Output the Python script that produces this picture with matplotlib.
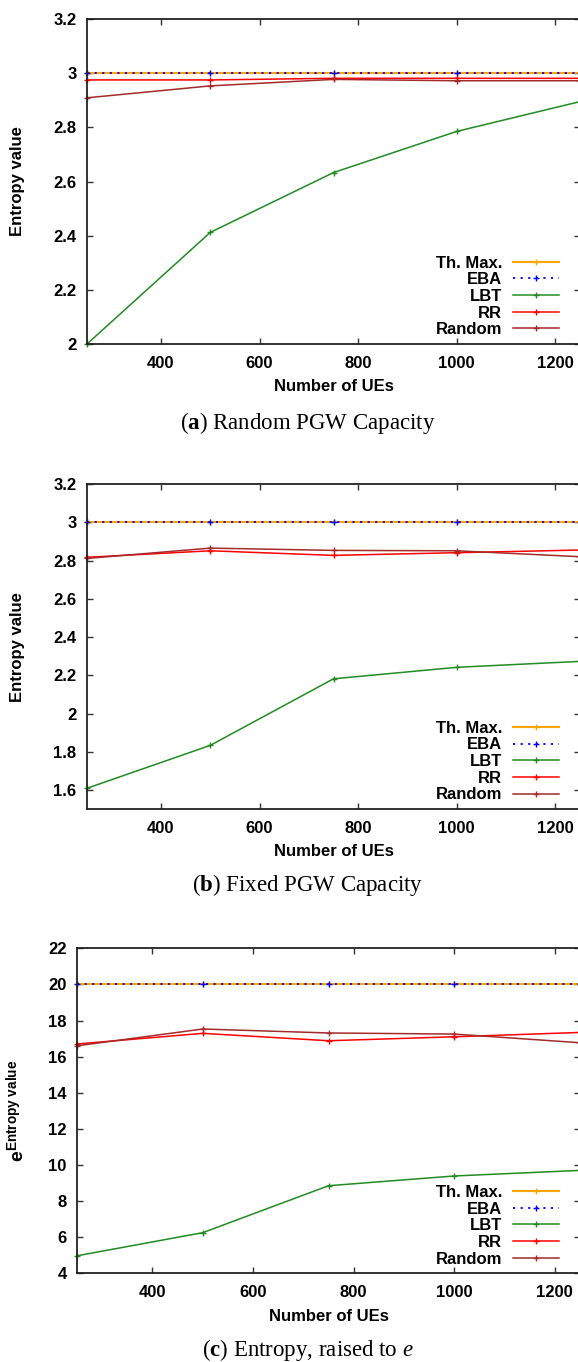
import matplotlib
matplotlib.use("Agg")
import matplotlib.pyplot as plt
from matplotlib.ticker import FixedLocator, FuncFormatter
from matplotlib.font_manager import FontProperties

plt.rcParams['font.family'] = ['Liberation Sans', 'DejaVu Sans']
plt.rcParams['font.weight'] = 'bold'
plt.rcParams['mathtext.fontset'] = 'custom'
plt.rcParams['mathtext.rm'] = 'Liberation Serif:weight=normal'
plt.rcParams['mathtext.it'] = 'Liberation Serif:style=italic:weight=normal'
plt.rcParams['mathtext.bf'] = 'Liberation Serif:weight=bold'
plt.rcParams['mathtext.sf'] = 'Liberation Sans:weight=bold'

# ---------------- data ----------------
ues = [250, 500, 750, 1000, 1250]
series_names = ["Th. Max.", "EBA", "LBT", "RR", "Random"]

# (a) Random PGW capacity
a_thmax = [3.0, 3.0, 3.0, 3.0, 3.0]
a_eba = [3.0, 3.0, 3.0, 3.0, 3.0]
a_lbt = [2.0, 2.412, 2.633, 2.785, 2.895]
a_rr = [2.975, 2.975, 2.981, 2.981, 2.981]
a_random = [2.909, 2.953, 2.977, 2.972, 2.972]

# (b) Fixed PGW capacity
b_thmax = [3.0, 3.0, 3.0, 3.0, 3.0]
b_eba = [3.0, 3.0, 3.0, 3.0, 3.0]
b_lbt = [1.61, 1.834, 2.182, 2.242, 2.273]
b_rr = [2.817, 2.851, 2.827, 2.841, 2.855]
b_random = [2.811, 2.865, 2.853, 2.851, 2.820]

# (c) Entropy raised to e
c_thmax = [20.0, 20.0, 20.0, 20.0, 20.0]
c_eba = [20.0, 20.0, 20.0, 20.0, 20.0]
c_lbt = [4.97, 6.25, 8.85, 9.39, 9.70]
c_rr = [16.70, 17.29, 16.88, 17.10, 17.34]
c_random = [16.60, 17.53, 17.31, 17.25, 16.77]

x_ticks = [400, 600, 800, 1000, 1200]
a_yticks = [2.0, 2.2, 2.4, 2.6, 2.8, 3.0, 3.2]
b_yticks = [1.6, 1.8, 2.0, 2.2, 2.4, 2.6, 2.8, 3.0, 3.2]
c_yticks = [4, 6, 8, 10, 12, 14, 16, 18, 20, 22]

captions = [r"($\mathbf{a}$) Random PGW Capacity",
            r"($\mathbf{b}$) Fixed PGW Capacity",
            r"($\mathbf{c}$) Entropy, raised to $e$"]
xlabel = "Number of UEs"
ylabel_ab = "Entropy value"
ylabel_c = r"$\mathsf{e}^{\mathsf{Entropy\ value}}$"

# ---------------- styles ----------------
styles = [
    dict(color='#ffa500', lw=1.5, ls='-'),
    dict(color='#0000ff', lw=1.3, ls=(0, (1.2, 3.0))),
    dict(color='#228b22', lw=1.1, ls='-'),
    dict(color='#ff0000', lw=1.1, ls='-'),
    dict(color='#a52a2a', lw=1.1, ls='-'),
]

W, H = 578, 1362
fig = plt.figure(figsize=(W / 100, H / 100), dpi=100)


def rect(left, top, right, bottom):
    return [left / W, 1 - bottom / H, (right - left) / W, (bottom - top) / H]


panels = [
    dict(rect=rect(87, 19, 580, 344), data=[a_thmax, a_eba, a_lbt, a_rr, a_random],
         ylim=(2.0, 3.2), yticks=a_yticks, ylabel=ylabel_ab, ylsize=12,
         xlab_xy=(333.5, 386.7), ylab_xy=(18, 181.5), cap_y=422.7, legx=0.957),
    dict(rect=rect(87, 484, 580, 809.3), data=[b_thmax, b_eba, b_lbt, b_rr, b_random],
         ylim=(1.5, 3.2), yticks=b_yticks, ylabel=ylabel_ab, ylsize=12,
         xlab_xy=(333.5, 851.7), ylab_xy=(18, 646.7), cap_y=885.0, legx=0.957),
    dict(rect=rect(77, 948.3, 580, 1273.3), data=[c_thmax, c_eba, c_lbt, c_rr, c_random],
         ylim=(4, 22), yticks=c_yticks, ylabel=ylabel_c, ylsize=14,
         xlab_xy=(328.5, 1316.7), ylab_xy=(16.5, 1110.8), cap_y=1350.0, legx=0.958),
]

leg_font = FontProperties(family='Liberation Sans', weight='bold', size=12)

for i, p in enumerate(panels):
    ax = fig.add_axes(p['rect'])
    for name, vals, st in zip(series_names, p['data'], styles):
        ax.plot(ues, vals, label=name, marker='+', markersize=4.5, markeredgewidth=1.0,
                clip_on=False, **st)
    ax.set_xlim(250, 1250)
    ax.set_ylim(*p['ylim'])
    ax.xaxis.set_major_locator(FixedLocator(x_ticks))
    ax.yaxis.set_major_locator(FixedLocator(p['yticks']))
    ax.yaxis.set_major_formatter(FuncFormatter(lambda v, pos: f"{v:g}"))
    ax.xaxis.set_major_formatter(FuncFormatter(lambda v, pos: f"{v:g}"))
    ax.tick_params(axis='both', direction='in', length=4.5, width=1.0, color='#333333',
                   top=True, right=True, labelsize=12)
    ax.tick_params(axis='y', pad=7.5)
    ax.tick_params(axis='x', pad=8.5)
    for sp in ax.spines.values():
        sp.set_linewidth(1.3)
        sp.set_color('#222222')
    ax.legend(loc='center right', bbox_to_anchor=(p['legx'], 0.1465), markerfirst=False,
              frameon=False, borderpad=0, borderaxespad=0, labelspacing=0.1,
              handlelength=2.75, handletextpad=0.65, prop=leg_font)

    fig.text(p['xlab_xy'][0] / W, 1 - p['xlab_xy'][1] / H, xlabel, ha='center', va='center',
             fontsize=12, fontweight='bold')
    fig.text(p['ylab_xy'][0] / W, 1 - p['ylab_xy'][1] / H, p['ylabel'], ha='center',
             va='center', rotation=90, fontsize=p['ylsize'], fontweight='bold')
    fig.text(307.5 / W, 1 - p['cap_y'] / H, captions[i], ha='center', va='center',
             fontsize=16.5, fontweight='normal', family='Liberation Serif')

fig.savefig("out.png", dpi=100)
